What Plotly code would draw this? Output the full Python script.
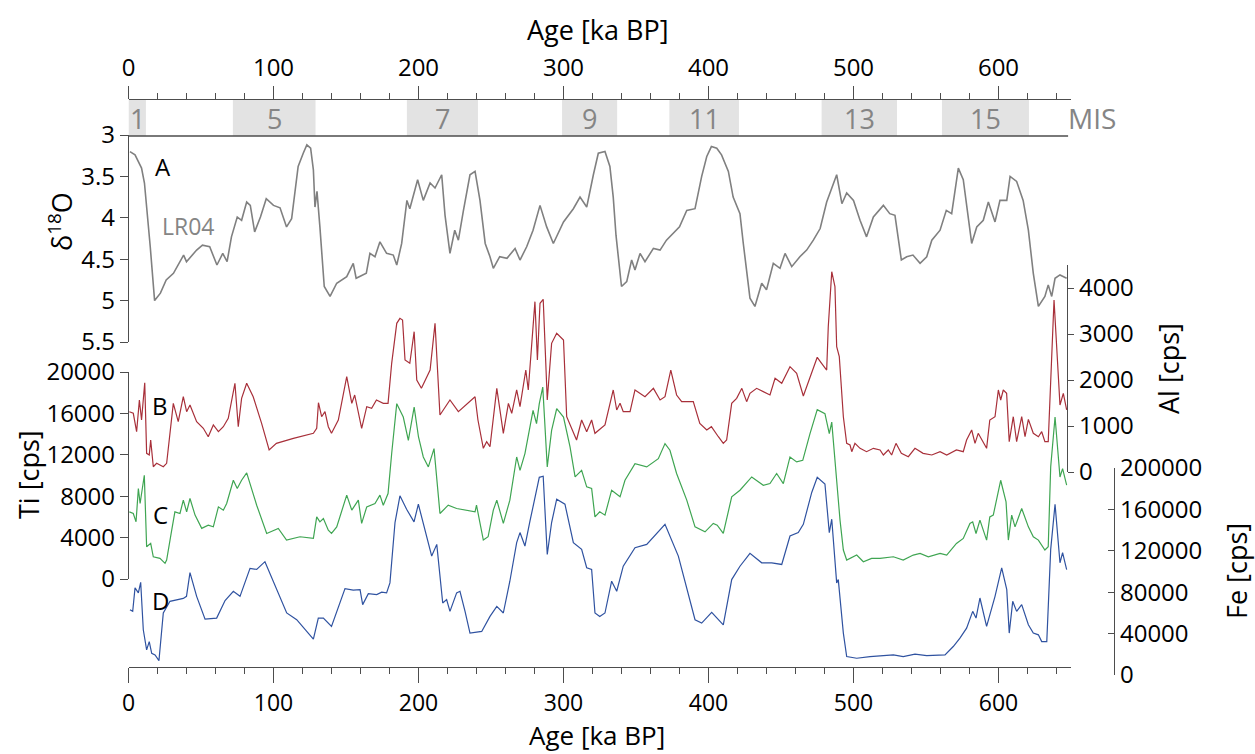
import plotly.graph_objects as go

W, H = 1255, 754
FONT = "Open Sans"

# ---------------- data ----------------
lr04_age = [1, 4.5, 9, 11, 15, 18, 22, 26, 31, 38, 40, 47, 51, 56, 61, 65, 68, 71, 75, 78, 81.5, 84, 87, 91, 95,
            100, 104.5, 109, 112.5, 117, 120.5, 123, 125.6, 127.5, 128.6, 130, 132, 135, 139, 143.6, 150.5, 155,
            157, 164, 166.5, 170, 173.4, 178, 182.6, 185, 188.4, 192, 194, 199.4, 203.3, 208, 211.4, 216, 218.3,
            221.7, 225, 227.5, 231, 235.5, 239, 242.4, 246, 249.3, 251.6, 256, 261, 266.6, 270, 274.6, 279, 283.8,
            288.4, 293, 300, 306.8, 311.4, 316, 320.6, 324, 328.6, 332, 334.3, 336.2, 340, 343.6, 347, 349.3,
            352.8, 356.2, 362, 366.6, 371, 375.7, 380, 385, 390.7, 395.3, 398.8, 402, 405.7, 409, 413.7, 417,
            421.7, 424, 426.3, 428.6, 432, 436.7, 440, 444.7, 449.3, 452.8, 457.4, 463, 467.7, 472.3, 477, 481.5,
            488.4, 492, 495.3, 500, 504.5, 509, 513.7, 520.6, 525, 528.6, 533, 536.7, 541, 545.9, 550.5, 554,
            559.7, 564, 567.7, 570, 572.3, 575.7, 579, 581.5, 585, 589.5, 593, 597.6, 601, 605.7, 608, 612.5, 617,
            620.6, 624, 627.5, 632, 634.3, 636.7, 639, 642.4, 647]
lr04_d18o = [3.20, 3.24, 3.40, 3.58, 4.35, 5.00, 4.91, 4.75, 4.67, 4.45, 4.53, 4.39, 4.33, 4.35, 4.57, 4.43, 4.53,
             4.23, 3.99, 4.03, 3.81, 3.85, 4.17, 3.99, 3.77, 3.85, 3.88, 4.11, 4.01, 3.38, 3.22, 3.12, 3.16, 3.42,
             3.87, 3.68, 4.11, 4.83, 4.95, 4.79, 4.71, 4.55, 4.73, 4.67, 4.43, 4.47, 4.29, 4.43, 4.45, 4.57, 4.31,
             3.79, 3.89, 3.54, 3.79, 3.58, 3.64, 3.48, 3.97, 4.43, 4.15, 4.27, 3.91, 3.48, 3.44, 3.79, 4.31, 4.47,
             4.61, 4.47, 4.49, 4.37, 4.51, 4.35, 4.15, 3.85, 4.11, 4.31, 4.05, 3.89, 3.75, 3.87, 3.48, 3.22, 3.20,
             3.38, 3.75, 4.21, 4.83, 4.77, 4.51, 4.63, 4.43, 4.53, 4.37, 4.39, 4.27, 4.19, 4.11, 3.91, 3.89, 3.50,
             3.26, 3.14, 3.16, 3.24, 3.44, 3.75, 3.95, 4.31, 4.63, 4.97, 5.07, 4.79, 4.87, 4.55, 4.61, 4.43, 4.59,
             4.47, 4.39, 4.27, 4.13, 3.81, 3.48, 3.83, 3.70, 3.79, 4.03, 4.23, 3.99, 3.85, 3.95, 3.97, 4.51, 4.47,
             4.45, 4.55, 4.47, 4.27, 4.15, 3.91, 3.95, 3.66, 3.40, 3.54, 3.95, 4.31, 4.11, 4.03, 3.81, 4.05, 3.79,
             3.79, 3.50, 3.56, 3.79, 4.15, 4.67, 5.07, 4.95, 4.81, 4.95, 4.73, 4.69, 4.73]

al_age = [0.6, 3.3, 5.6, 7.5, 9, 11.2, 12.5, 14.3, 15.3, 17.1, 19.4, 24, 26.3, 30.9, 34.3, 37.8, 40.1, 42.4, 47,
          51.6, 55, 58.5, 62, 65.4, 68.8, 73.4, 75.7, 78, 81.5, 86, 91.8, 97, 102, 113.7, 127.5, 129.8, 131, 133.2,
          135.5, 137.8, 140, 144.7, 150.5, 154, 156, 160.8, 164.3, 167.7, 171, 175.7, 179, 181.5, 185, 187.2, 189,
          190.7, 194, 197, 198.8, 202, 208, 211.4, 214.8, 221.7, 227.5, 239, 241, 244.7, 247, 249.3, 254, 258.5,
          262, 264.3, 267.7, 270, 274, 275.7, 280.3, 282, 283.8, 286, 288.8, 291.8, 295.3, 300, 302.2, 309, 312.5,
          316, 319.4, 321.7, 328.6, 334.3, 336.7, 339, 341.2, 345.9, 349.3, 356.2, 362, 366.6, 370, 374, 378,
          381.5, 389.5, 394, 398.8, 402, 406.8, 410.2, 412.5, 416, 419.4, 423, 426.3, 428.6, 433.2, 442.4, 445.9,
          450.5, 456.2, 460.8, 465.4, 470, 475, 478, 481.5, 482.6, 485, 487.2, 488.4, 490.2, 493, 495.3, 497.6,
          498.8, 501, 504.5, 509, 513.7, 518.3, 520.6, 524, 526.3, 529.3, 533, 537.8, 542.4, 548, 554, 559.7,
          564.3, 571, 575.7, 578, 581.5, 583.8, 586, 589.5, 591.8, 594, 597.6, 599.9, 601.5, 603.3, 605.6, 607.4,
          610.2, 612.5, 616, 618.3, 620.6, 624, 627.5, 629.8, 632, 634.3, 638.3, 642.4, 644.7, 647]
al_cps = [1311, 1276, 876, 1565, 1130, 1941, 406, 370, 696, 115, 189, 115, 189, 1493, 1094, 1637, 1311, 1456, 1094,
          950, 767, 1022, 876, 985, 1167, 1928, 985, 1602, 1928, 1637, 1058, 478, 623, 732, 841, 950, 1507, 1202,
          1311, 985, 841, 1130, 2072, 1493, 1674, 950, 1420, 1384, 1565, 1493, 1493, 2363, 3232, 3341, 3304, 2435,
          2363, 3050, 2000, 1819, 2217, 3232, 1239, 1565, 1311, 1637, 1130, 515, 659, 550, 1819, 841, 1493, 1276,
          1783, 1420, 2217, 1783, 3703, 2435, 3667, 3754, 1565, 2797, 3015, 2870, 1202, 696, 1130, 876, 1130, 841,
          1022, 1783, 1348, 1493, 1311, 1311, 1783, 1637, 1819, 1565, 1637, 2217, 1674, 1529, 1529, 1058, 913,
          985, 767, 623, 696, 1493, 1602, 1819, 1529, 1710, 1819, 1674, 2036, 1928, 2290, 2145, 1652, 2072, 2493,
          2363, 2217, 3159, 4355, 4029, 2725, 2507, 1202, 623, 587, 442, 623, 515, 442, 515, 478, 370, 478, 370,
          623, 406, 333, 515, 406, 370, 442, 370, 478, 442, 696, 913, 623, 841, 659, 515, 1130, 1202, 1783, 1565,
          1783, 1710, 659, 1202, 659, 1202, 767, 1145, 841, 767, 876, 659, 659, 3739, 1456, 1710, 1348]

ti_age = [0.6, 3.3, 5.2, 6.8, 8, 9.3, 10.9, 12.5, 15.3, 17.1, 21.7, 25.2, 26.3, 29.8, 32, 35.5, 37.8, 40.1, 42.4,
          45.9, 50.5, 55, 58.5, 62, 65.4, 67.7, 72.3, 75, 78, 81.5, 88.4, 95.3, 103.3, 109, 118.3, 127.5, 129.8,
          132, 134.4, 137.8, 140, 143.6, 150.5, 154, 158.5, 160.8, 164.3, 170, 173.4, 175.7, 179, 181.5, 185, 189.5,
          193, 197, 200, 203.3, 206.8, 210.7, 214.8, 220.5, 226.3, 239, 240, 244.7, 248, 251.6, 254, 258.5, 263,
          267.7, 270, 273.4, 275.7, 279, 281.4, 283.3, 285.7, 288.8, 291.8, 295.3, 300, 304.5, 308, 312.5, 316,
          319.4, 321.7, 325, 328.6, 333.2, 339, 342.4, 349.3, 357.4, 365.4, 370, 373.4, 378, 385, 390.7, 397.6,
          403.3, 406, 410.2, 416, 421.7, 429.8, 437.8, 442.4, 447, 451.6, 456.2, 460.8, 465, 470, 475, 480.3,
          483.3, 485, 488.4, 490.7, 493, 495.3, 502.2, 506.8, 512.5, 518.3, 527.5, 534.3, 541.2, 545.9, 551.6,
          559.7, 564.3, 571, 575.7, 580.3, 582.2, 584.5, 587.2, 591.8, 594, 596.4, 601.5, 605.2, 606.8, 609.1,
          611.4, 616, 620.6, 624, 627.5, 632, 634.3, 636, 639, 642.4, 644.2, 647]
ti_cps = [6490, 6330, 5525, 8740, 7295, 8580, 10025, 3114, 3440, 2150, 1995, 1514, 1831, 4724, 6490, 6330, 7617,
          6490, 7780, 6170, 4890, 5205, 5040, 6970, 6650, 7300, 9540, 8740, 9540, 10250, 7130, 4400, 4885, 3758,
          4080, 3920, 6000, 5525, 5850, 4724, 4400, 5040, 8100, 6650, 7617, 5370, 6970, 7300, 8100, 7130, 8260,
          12120, 16940, 15650, 13400, 16610, 13720, 11790, 10830, 12600, 6330, 7130, 6810, 6490, 7130, 3760, 4080,
          6650, 7617, 5370, 7617, 11790, 10500, 12120, 13720, 16290, 15010, 16940, 18540, 10830, 14360, 16450,
          15650, 12760, 9860, 10500, 8900, 8740, 6000, 6490, 6170, 8580, 7940, 9540, 11150, 10830, 11630, 13080,
          12440, 10190, 7617, 5040, 4560, 5370, 5205, 4400, 7940, 8580, 9860, 9060, 9220, 10190, 9220, 11790,
          11310, 11470, 14040, 16360, 15970, 14040, 15160, 9220, 5690, 2800, 1830, 2313, 1670, 1990, 1990, 2150,
          1830, 2313, 2475, 2150, 2475, 2313, 3440, 3920, 5370, 5525, 4400, 5690, 3760, 6000, 6170, 9540, 7450,
          3760, 6170, 5040, 6810, 5040, 4080, 3760, 2800, 3114, 10830, 15650, 9860, 10670, 9060]

fe_age = [1, 2.9, 4.5, 6.8, 8.4, 10.2, 12.5, 14.3, 16, 18.3, 21, 24, 28.6, 37.8, 40, 42.4, 47, 52.8, 60.8, 66.6,
          72.3, 76.9, 83.8, 88.4, 94.1, 102.2, 109.1, 116, 121.7, 127.5, 130.9, 134.4, 140, 144.7, 149.3, 155,
          159.7, 161.5, 165.4, 171.2, 174.6, 178, 180.3, 183.8, 187.2, 191.8, 196.9, 199.9, 204.5, 209.1, 212.6,
          216.7, 219.4, 221.7, 226.3, 228.6, 232.1, 235.5, 243.6, 249.3, 254, 258.5, 263, 267.7, 270, 273.4, 276.9,
          280.3, 283.3, 286, 288.8, 291.8, 295.3, 301, 306.8, 312.5, 316, 319.4, 321.7, 325, 328.6, 333.2, 336.7,
          341.2, 349.3, 357.4, 370, 379.2, 390.7, 395.3, 402.2, 410.2, 416, 421.7, 428.6, 436.7, 443.6, 450.5,
          456.2, 461.9, 465.4, 471.2, 475, 480.3, 483.3, 485, 488.4, 489.5, 493, 495.3, 502.2, 511.4, 518.3, 527.5,
          534.3, 542.4, 550.5, 557.4, 563.1, 568.8, 573.4, 578, 582.2, 584.5, 587.2, 591.8, 597.6, 602.2, 605.7,
          607.4, 609.8, 612.5, 616, 620.6, 624, 627.5, 629.8, 633.3, 636, 639, 642.4, 644.2, 647]
fe_cps = [63100, 61500, 84200, 79300, 89600, 43700, 24300, 32300, 21000, 19400, 13900, 60000, 71200, 74000, 76000,
          99000, 76000, 54000, 55000, 72000, 80900, 76000, 103000, 102000, 109500, 82500, 60000, 53400, 43700,
          34700, 55000, 55000, 46900, 66300, 83500, 82000, 82500, 68000, 78500, 77700, 80000, 79300, 89000, 147300,
          173100, 160200, 147900, 165000, 140800, 114900, 126200, 69600, 72800, 61500, 79300, 80900, 61500, 40500,
          42100, 56600, 66300, 59900, 90600, 127900, 137600, 124600, 148800, 169900, 191000, 192000, 116500,
          147300, 169900, 165000, 127900, 121400, 103600, 101900, 59900, 56600, 59900, 90600, 80900, 105100,
          123000, 126200, 145600, 114900, 53400, 50200, 60500, 48500, 92200, 105100, 117500, 108400, 108400,
          106800, 134300, 137600, 145600, 176400, 191000, 184500, 137600, 150500, 89000, 92200, 40500, 17800,
          16200, 17800, 18400, 19400, 17800, 20100, 18800, 18800, 19400, 27500, 35600, 45300, 61500, 55000, 74400,
          46900, 76000, 103600, 82500, 40500, 71200, 61500, 68000, 48500, 40500, 38800, 32300, 32300, 121400,
          165000, 108400, 118200, 101900]

mis_labels = ["1", "5", "7", "9", "11", "13", "15"]
mis_start = [0, 72, 192, 299, 373, 478, 561]
mis_end = [12, 129, 241, 337, 421, 530, 621]

age_ticks = [0, 100, 200, 300, 400, 500, 600]
d18o_ticks = [3, 3.5, 4, 4.5, 5, 5.5]
ti_ticks = [0, 4000, 8000, 12000, 16000, 20000]
al_ticks = [0, 1000, 2000, 3000, 4000]
fe_ticks = [0, 40000, 80000, 120000, 160000, 200000]

# ---------------- helpers ----------------
def px(x):
    return x / W

def py(y):
    return 1 - y / H

AX = "#4d4d4d"
GRAY = "#858585"
tickfont = dict(family=FONT, size=24, color="black")
xdom = [px(128.5), px(1071)]

fig = go.Figure()
fig.add_trace(go.Scatter(x=lr04_age, y=lr04_d18o, mode="lines", line=dict(color="#808080", width=1.6),
                         xaxis="x", yaxis="y", hoverinfo="skip"))
fig.add_trace(go.Scatter(x=al_age, y=al_cps, mode="lines", line=dict(color="#a8303a", width=1.2),
                         xaxis="x", yaxis="y3", hoverinfo="skip"))
fig.add_trace(go.Scatter(x=ti_age, y=ti_cps, mode="lines", line=dict(color="#3fa552", width=1.2),
                         xaxis="x", yaxis="y2", hoverinfo="skip"))
fig.add_trace(go.Scatter(x=fe_age, y=fe_cps, mode="lines", line=dict(color="#2f52a0", width=1.2),
                         xaxis="x", yaxis="y4", hoverinfo="skip"))
# carrier for the top age axis
fig.add_trace(go.Scatter(x=[0, 650], y=[None, None], mode="lines", xaxis="x2", yaxis="y",
                         hoverinfo="skip", showlegend=False))

common_x = dict(range=[0, 650], domain=xdom, showgrid=False, zeroline=False, showline=True,
                linecolor=AX, linewidth=1.3, ticks="outside", tickcolor=AX, tickwidth=1.3,
                tickvals=age_ticks, tickfont=tickfont, anchor="free", automargin=False,
                minor=dict(dtick=20, tick0=0, ticks="outside", ticklen=6, tickcolor=AX, tickwidth=1.3, showgrid=False))

common_y = dict(showgrid=False, zeroline=False, showline=True, linecolor=AX, linewidth=1.3,
                tickcolor=AX, tickwidth=1.3, tickfont=tickfont, anchor="free", tickformat="d",
                automargin=False)

fig.update_layout(
    width=W, height=H, margin=dict(l=0, r=0, t=0, b=0, pad=0, autoexpand=False),
    paper_bgcolor="white", plot_bgcolor="rgba(0,0,0,0)", showlegend=False,
    xaxis=dict(common_x, position=py(667), side="bottom", ticklen=15,
               tickfont=dict(family=FONT, size=23, color="black")),
    xaxis2=dict(common_x, position=py(99), side="top", ticklen=13, overlaying="x"),
    yaxis=dict(common_y, range=[5.5, 3], domain=[py(342), py(135)], position=px(128), side="left",
               ticks="outside", ticklen=8, tickvals=d18o_ticks, ticktext=[str(v) for v in d18o_ticks],
               tickformat=None),
    yaxis2=dict(common_y, range=[0, 20000], domain=[py(579), py(372)], position=px(128), side="left",
                ticks="outside", ticklen=8, tickvals=ti_ticks),
    yaxis3=dict(common_y, range=[0, 4500], domain=[py(472), py(265)], position=px(1067), side="right",
                ticks="outside", ticklen=6, tickvals=al_ticks),
    yaxis4=dict(common_y, range=[0, 200000], domain=[py(675), py(468)], position=px(1114), side="right",
                ticks="inside", ticklen=6, tickvals=fe_ticks),
)

shapes = []
for s, e in zip(mis_start, mis_end):
    shapes.append(dict(type="rect", xref="x", yref="paper", x0=s, x1=e, y0=py(136), y1=py(99),
                       fillcolor="#e3e3e3", line=dict(width=0), layer="below"))
shapes.append(dict(type="line", xref="x", yref="paper", x0=0, x1=648, y0=py(136), y1=py(136),
                   line=dict(color=AX, width=1.3)))
fig.update_layout(shapes=shapes)

ann = []
for lab, s, e in zip(mis_labels, mis_start, mis_end):
    ann.append(dict(x=(s + e) / 2, y=py(118), xref="x", yref="paper", text=lab, showarrow=False,
                    font=dict(family=FONT, size=27, color=GRAY), xanchor="center", yanchor="middle"))

def note(text, x, y, size=23, color="black", angle=0, yanchor="middle"):
    ann.append(dict(x=px(x), y=py(y), xref="paper", yref="paper", text=text, showarrow=False,
                    font=dict(family=FONT, size=size, color=color), textangle=angle,
                    xanchor="center", yanchor=yanchor, borderpad=0))

note("MIS", 1092, 118, 28, GRAY)
note("Age [ka BP]", 597, 30, 27)
note("Age [ka BP]", 597, 754, 26, yanchor="bottom")
note("δ<sup>18</sup>O", 60, 222, 27, angle=-90)
note("Ti [cps]", 28, 475, 27, angle=-90)
note("Al [cps]", 1168, 369, 27, angle=-90)
note("Fe [cps]", 1236, 571, 27, angle=-90)
note("A", 163, 167, 24)
note("LR04", 188, 226, 23, GRAY)
note("B", 160, 405, 24)
note("C", 160, 514, 24)
note("D", 160, 600, 24)
fig.update_layout(annotations=ann)

fig.write_html("out.html")
